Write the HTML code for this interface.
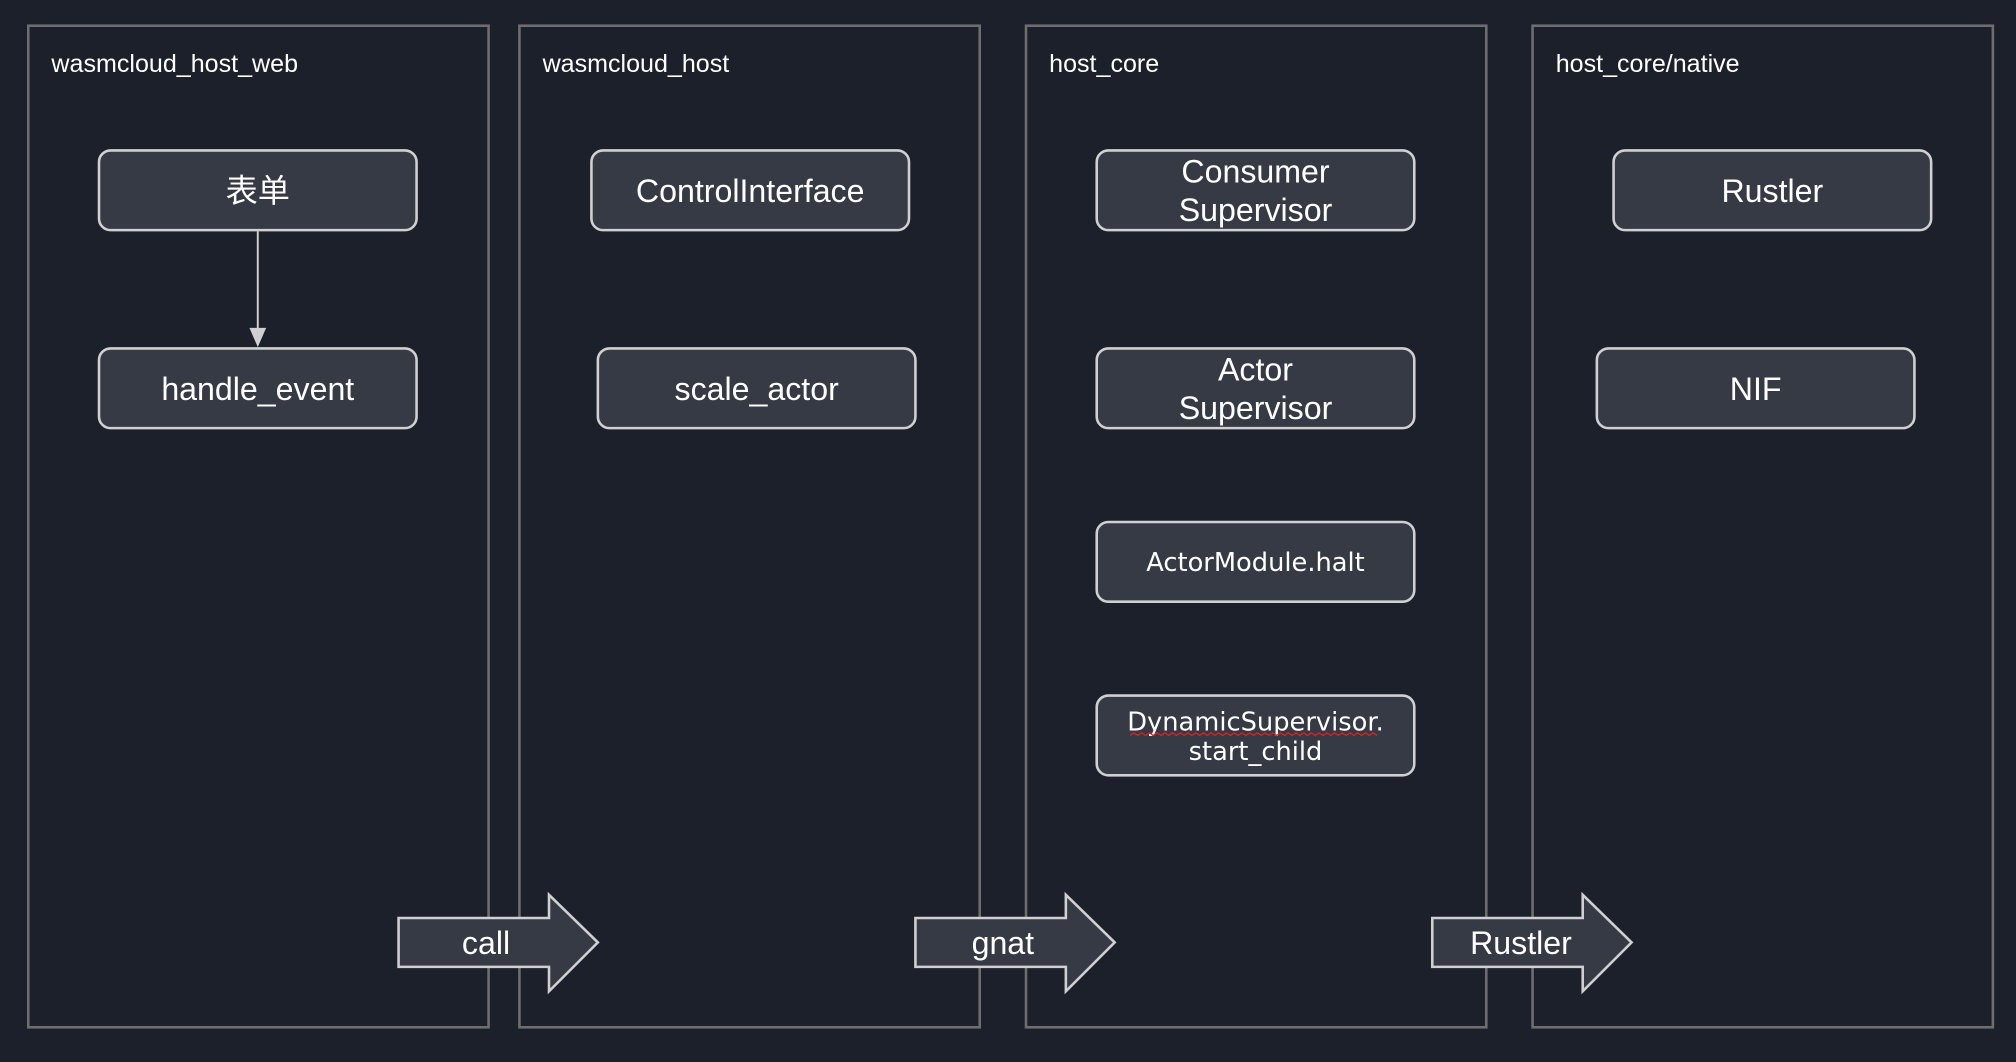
<!DOCTYPE html>
<html><head><meta charset="utf-8"><style>html,body{margin:0;padding:0;background:#1c202b;}svg{display:block}</style></head>
<body>
<svg width="2016" height="1062" viewBox="0 0 1568 826" xmlns="http://www.w3.org/2000/svg" font-family="'Liberation Sans','Noto Sans CJK SC',sans-serif">
<rect width="1568" height="826" fill="#1c202b"/>
<g fill="none" stroke="#6e6e6e" stroke-width="2">
<rect x="22" y="20" width="358" height="779"/>
<rect x="404" y="20" width="358" height="779"/>
<rect x="798" y="20" width="358" height="779"/>
<rect x="1192" y="20" width="358" height="779"/>
</g>
<g fill="#ffffff" font-size="19.5">
<text x="40" y="56">wasmcloud_host_web</text>
<text x="422" y="56">wasmcloud_host</text>
<text x="816" y="56">host_core</text>
<text x="1210" y="56">host_core/native</text>
</g>
<g fill="#353a45" stroke="#d0d0d0" stroke-width="2">
<rect x="77" y="117" width="247" height="62" rx="9"/>
<rect x="77" y="271" width="247" height="62" rx="9"/>
<rect x="460" y="117" width="247" height="62" rx="9"/>
<rect x="465" y="271" width="247" height="62" rx="9"/>
<rect x="853" y="117" width="247" height="62" rx="9"/>
<rect x="853" y="271" width="247" height="62" rx="9"/>
<rect x="853" y="406" width="247" height="62" rx="9"/>
<rect x="853" y="541" width="247" height="62" rx="9"/>
<rect x="1255" y="117" width="247" height="62" rx="9"/>
<rect x="1242" y="271" width="247" height="62" rx="9"/>
</g>
<line x1="200.5" y1="180" x2="200.5" y2="257" stroke="#d0d0d0" stroke-width="1.5"/>
<polygon points="194,255 207,255 200.5,270" fill="#d0d0d0"/>
<g fill="#ffffff" font-size="25" text-anchor="middle">
<text x="200.5" y="157">表单</text>
<text x="200.5" y="311">handle_event</text>
<text x="583.5" y="157">ControlInterface</text>
<text x="588.5" y="311">scale_actor</text>
<text x="976.5" y="142">Consumer</text>
<text x="976.5" y="172">Supervisor</text>
<text x="976.5" y="296">Actor</text>
<text x="976.5" y="326">Supervisor</text>
<text x="1378.5" y="157">Rustler</text>
<text x="1365.5" y="311">NIF</text>
</g>
<g fill="#ffffff" font-size="20" text-anchor="middle" font-family="'DejaVu Sans',sans-serif">
<text x="976.5" y="444">ActorModule.halt</text>
<text x="976.5" y="568">DynamicSupervisor.</text>
<text x="976.5" y="591">start_child</text>
</g>
<path d="M879,572 l3,-2 l3,2 l3,-2 l3,2 l3,-2 l3,2 l3,-2 l3,2 l3,-2 l3,2 l3,-2 l3,2 l3,-2 l3,2 l3,-2 l3,2 l3,-2 l3,2 l3,-2 l3,2 l3,-2 l3,2 l3,-2 l3,2 l3,-2 l3,2 l3,-2 l3,2 l3,-2 l3,2 l3,-2 l3,2 l3,-2 l3,2 l3,-2 l3,2 l3,-2 l3,2 l3,-2 l3,2 l3,-2 l3,2 l3,-2 l3,2 l3,-2 l3,2 l3,-2 l3,2 l3,-2 l3,2 l3,-2 l3,2 l3,-2 l3,2 l3,-2 l3,2 l3,-2 l3,2 l3,-2 l3,2 l3,-2 l3,2 l3,-2 l3,2" fill="none" stroke="#e02020" stroke-width="1"/>
<g fill="#353a45" stroke="#d0d0d0" stroke-width="2">
<polygon points="310,714 427,714 427,696 465,733 427,771 427,752 310,752"/>
<polygon points="712,714 829,714 829,696 867,733 829,771 829,752 712,752"/>
<polygon points="1114,714 1231,714 1231,696 1269,733 1231,771 1231,752 1114,752"/>
</g>
<g fill="#ffffff" font-size="25" text-anchor="middle">
<text x="378" y="742">call</text>
<text x="780" y="742">gnat</text>
<text x="1183" y="742">Rustler</text>
</g>
</svg>
</body></html>
